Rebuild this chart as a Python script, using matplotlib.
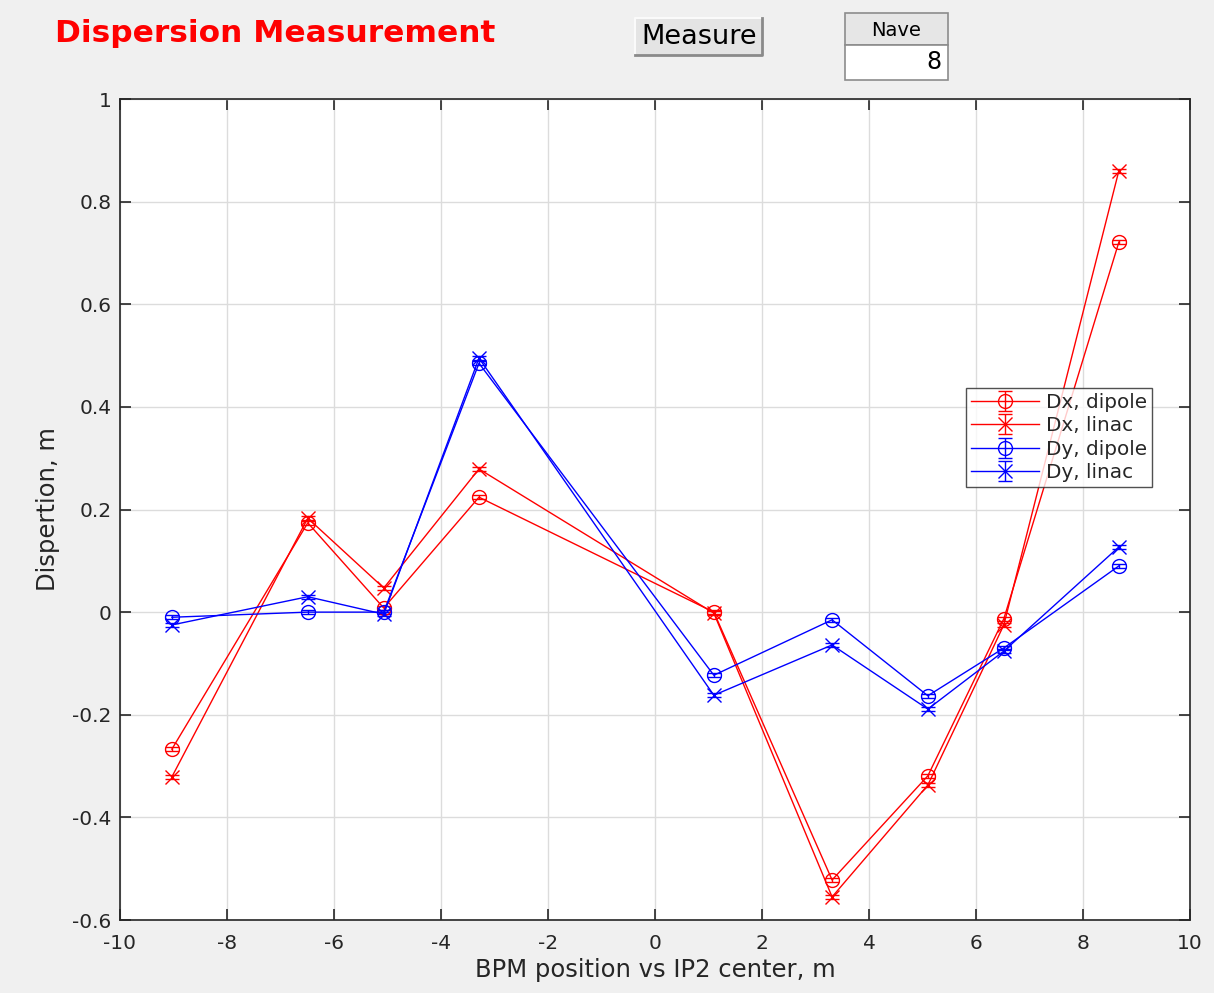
import numpy as np
import matplotlib
matplotlib.use('Agg')
import matplotlib.pyplot as plt
from matplotlib.patches import Rectangle

bpm_pos = [-9.03, -6.49, -5.07, -3.29, 1.10, 3.31, 5.10, 6.52, 8.67]

dx_dipole = [-0.267, 0.174, 0.008, 0.224, 0.000, -0.522, -0.319, -0.013, 0.721]
dx_linac  = [-0.321, 0.183, 0.047, 0.279, -0.002, -0.555, -0.337, -0.025, 0.860]
dy_dipole = [-0.010, 0.000, 0.000, 0.485, -0.123, -0.015, -0.163, -0.070, 0.090]
dy_linac  = [-0.025, 0.030, -0.004, 0.495, -0.162, -0.064, -0.189, -0.076, 0.127]

# error bars are tiny, hidden inside the markers
err_small = [0.004, 0.004, 0.004, 0.004, 0.004, 0.004, 0.004, 0.004, 0.004]

series = [
    ('Dx, dipole', dx_dipole, 'red', 'o'),
    ('Dx, linac', dx_linac, 'red', 'x'),
    ('Dy, dipole', dy_dipole, 'blue', 'o'),
    ('Dy, linac', dy_linac, 'blue', 'x'),
]

plt.rcParams['font.family'] = ['DejaVu Sans']
plt.rcParams['axes.unicode_minus'] = False
BG = '#f0f0f0'
TXT = '#262626'
W, H = 1214, 993

fig = plt.figure(figsize=(W / 100, H / 100), dpi=100, facecolor=BG)
ax = fig.add_axes([120 / W, 1 - 920 / H, 1070 / W, 821 / H])
ax.set_facecolor('white')

for label, vals, col, mk in series:
    ax.errorbar(bpm_pos, vals, yerr=err_small, color=col, marker=mk,
                markersize=10, markerfacecolor='none', markeredgewidth=1.0,
                linewidth=1.0, capsize=5, elinewidth=1.0, label=label)

ax.set_xlim(-10, 10)
ax.set_ylim(-0.6, 1)
ax.set_xticks(np.arange(-10, 11, 2))
ax.set_yticks(np.arange(-0.6, 1.01, 0.2))
ax.set_yticklabels(['-0.6', '-0.4', '-0.2', '0', '0.2', '0.4', '0.6', '0.8', '1'])
ax.grid(True, color='#dcdcdc', linewidth=1.0)
ax.set_axisbelow(True)
ax.tick_params(direction='in', length=8, width=1.2, top=True, right=True,
               labelsize=14.5, colors=TXT)
ax.tick_params(axis='x', pad=10)
ax.tick_params(axis='y', pad=6)
for sp in ax.spines.values():
    sp.set_color(TXT)
    sp.set_linewidth(1.2)

ax.set_xlabel('BPM position vs IP2 center, m', fontsize=17.5, color=TXT, labelpad=4)
ax.set_ylabel('Dispertion, m', fontsize=17.5, color=TXT, labelpad=9)

leg = ax.legend(loc='upper right', bbox_to_anchor=((1152 - 120) / 1070, (920 - 388) / 821),
                fontsize=14.4, frameon=True, fancybox=False, handlelength=3.4,
                borderpad=0.25, labelspacing=0.22, handletextpad=0.35,
                borderaxespad=0)
leg.get_frame().set_edgecolor(TXT)
leg.get_frame().set_linewidth(1.0)
for t in leg.get_texts():
    t.set_color(TXT)

# ── header widgets ──
fig.text(55 / W, 1 - 34 / H, 'Dispersion Measurement', color='#ff0000',
         fontsize=22.5, fontweight='bold', ha='left', va='center')

# Measure button (light top/left edge, dark bottom/right edge)
fig.patches.append(Rectangle((635 / W, 1 - 55 / H), 127 / W, 37 / H,
                             transform=fig.transFigure, facecolor='#e4e4e4',
                             edgecolor='none'))
fig.lines.append(plt.Line2D([635 / W, 635 / W, 762 / W], [1 - 55 / H, 1 - 18 / H, 1 - 18 / H],
                            transform=fig.transFigure, color='#fafafa', linewidth=1.5))
fig.lines.append(plt.Line2D([635 / W, 762 / W, 762 / W], [1 - 55 / H, 1 - 55 / H, 1 - 18 / H],
                            transform=fig.transFigure, color='#8a8a8a', linewidth=2))
fig.text(699 / W, 1 - 37 / H, 'Measure', color='black', fontsize=19.5,
         ha='center', va='center')

# Nave label + edit box
fig.patches.append(Rectangle((845 / W, 1 - 45 / H), 103 / W, 32 / H,
                             transform=fig.transFigure, facecolor='#e6e6e6',
                             edgecolor='#8c8c8c', linewidth=1.2))
fig.text(896 / W, 1 - 30 / H, 'Nave', color='black', fontsize=14,
         ha='center', va='center')
fig.patches.append(Rectangle((845 / W, 1 - 80 / H), 103 / W, 35 / H,
                             transform=fig.transFigure, facecolor='white',
                             edgecolor='#8c8c8c', linewidth=1.2))
fig.text(941 / W, 1 - 62 / H, '8', color='black', fontsize=17,
         ha='right', va='center')

fig.savefig('out.png', dpi=100, facecolor=BG)
